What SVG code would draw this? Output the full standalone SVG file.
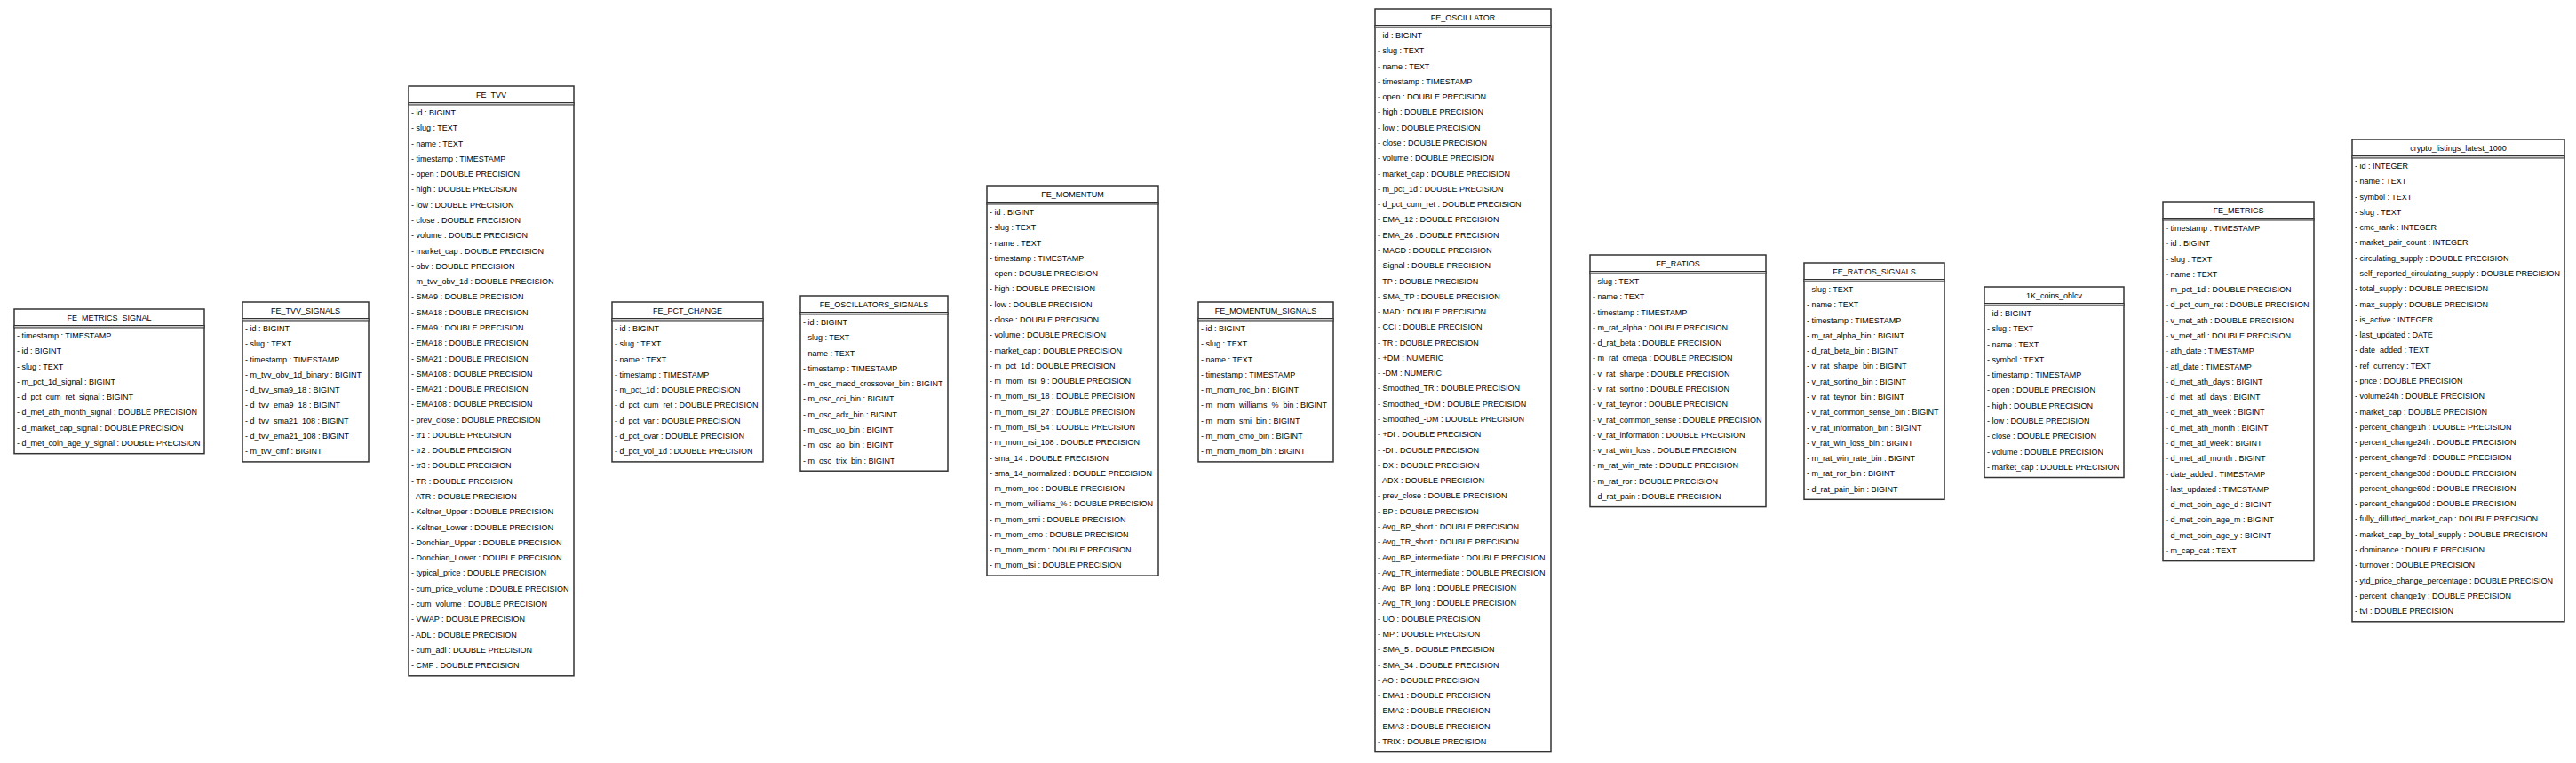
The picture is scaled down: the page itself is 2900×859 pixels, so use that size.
<svg xmlns="http://www.w3.org/2000/svg" width="2900" height="859" viewBox="0 0 2900 859">
<style>
.box{fill:#fff;stroke:#333;stroke-width:1.5}
.sep{fill:#ccc;stroke:#333;stroke-width:1}
text{font-family:"Liberation Sans",Arial,sans-serif;font-size:9px;fill:#000}
.t{text-anchor:middle}
</style>
<rect width="2900" height="859" fill="#fff"/>
<g id="connectors"></g>

<g id="FE_METRICS_SIGNAL" transform="translate(16,348)">
<rect class="box" x="0" y="0" width="214" height="162.7"/><rect class="sep" x="0" y="18.5" width="214" height="2.5"/>
<text class="t" x="107" y="12.5">FE_METRICS_SIGNAL</text>
<text x="3" y="33">- timestamp : TIMESTAMP</text>
<text x="3" y="50.3">- id : BIGINT</text>
<text x="3" y="67.6">- slug : TEXT</text>
<text x="3" y="84.8">- m_pct_1d_signal : BIGINT</text>
<text x="3" y="102.1">- d_pct_cum_ret_signal : BIGINT</text>
<text x="3" y="119.4">- d_met_ath_month_signal : DOUBLE PRECISION</text>
<text x="3" y="136.7">- d_market_cap_signal : DOUBLE PRECISION</text>
<text x="3" y="154">- d_met_coin_age_y_signal : DOUBLE PRECISION</text>
</g>

<g id="FE_TVV_SIGNALS" transform="translate(273,340)">
<rect class="box" x="0" y="0" width="142" height="179.9"/><rect class="sep" x="0" y="18.5" width="142" height="2.5"/>
<text class="t" x="71" y="12.5">FE_TVV_SIGNALS</text>
<text x="3" y="33">- id : BIGINT</text>
<text x="3" y="50.3">- slug : TEXT</text>
<text x="3" y="67.6">- timestamp : TIMESTAMP</text>
<text x="3" y="84.8">- m_tvv_obv_1d_binary : BIGINT</text>
<text x="3" y="102.1">- d_tvv_sma9_18 : BIGINT</text>
<text x="3" y="119.4">- d_tvv_ema9_18 : BIGINT</text>
<text x="3" y="136.7">- d_tvv_sma21_108 : BIGINT</text>
<text x="3" y="154">- d_tvv_ema21_108 : BIGINT</text>
<text x="3" y="171.2">- m_tvv_cmf : BIGINT</text>
</g>

<g id="FE_TVV" transform="translate(460,97)">
<rect class="box" x="0" y="0" width="186" height="663.8"/><rect class="sep" x="0" y="18.5" width="186" height="2.5"/>
<text class="t" x="93" y="12.5">FE_TVV</text>
<text x="3" y="33">- id : BIGINT</text>
<text x="3" y="50.3">- slug : TEXT</text>
<text x="3" y="67.6">- name : TEXT</text>
<text x="3" y="84.8">- timestamp : TIMESTAMP</text>
<text x="3" y="102.1">- open : DOUBLE PRECISION</text>
<text x="3" y="119.4">- high : DOUBLE PRECISION</text>
<text x="3" y="136.7">- low : DOUBLE PRECISION</text>
<text x="3" y="154">- close : DOUBLE PRECISION</text>
<text x="3" y="171.2">- volume : DOUBLE PRECISION</text>
<text x="3" y="188.5">- market_cap : DOUBLE PRECISION</text>
<text x="3" y="205.8">- obv : DOUBLE PRECISION</text>
<text x="3" y="223.1">- m_tvv_obv_1d : DOUBLE PRECISION</text>
<text x="3" y="240.4">- SMA9 : DOUBLE PRECISION</text>
<text x="3" y="257.6">- SMA18 : DOUBLE PRECISION</text>
<text x="3" y="274.9">- EMA9 : DOUBLE PRECISION</text>
<text x="3" y="292.2">- EMA18 : DOUBLE PRECISION</text>
<text x="3" y="309.5">- SMA21 : DOUBLE PRECISION</text>
<text x="3" y="326.8">- SMA108 : DOUBLE PRECISION</text>
<text x="3" y="344">- EMA21 : DOUBLE PRECISION</text>
<text x="3" y="361.3">- EMA108 : DOUBLE PRECISION</text>
<text x="3" y="378.6">- prev_close : DOUBLE PRECISION</text>
<text x="3" y="395.9">- tr1 : DOUBLE PRECISION</text>
<text x="3" y="413.2">- tr2 : DOUBLE PRECISION</text>
<text x="3" y="430.4">- tr3 : DOUBLE PRECISION</text>
<text x="3" y="447.7">- TR : DOUBLE PRECISION</text>
<text x="3" y="465">- ATR : DOUBLE PRECISION</text>
<text x="3" y="482.3">- Keltner_Upper : DOUBLE PRECISION</text>
<text x="3" y="499.6">- Keltner_Lower : DOUBLE PRECISION</text>
<text x="3" y="516.8">- Donchian_Upper : DOUBLE PRECISION</text>
<text x="3" y="534.1">- Donchian_Lower : DOUBLE PRECISION</text>
<text x="3" y="551.4">- typical_price : DOUBLE PRECISION</text>
<text x="3" y="568.7">- cum_price_volume : DOUBLE PRECISION</text>
<text x="3" y="586">- cum_volume : DOUBLE PRECISION</text>
<text x="3" y="603.2">- VWAP : DOUBLE PRECISION</text>
<text x="3" y="620.5">- ADL : DOUBLE PRECISION</text>
<text x="3" y="637.8">- cum_adl : DOUBLE PRECISION</text>
<text x="3" y="655.1">- CMF : DOUBLE PRECISION</text>
</g>

<g id="FE_PCT_CHANGE" transform="translate(689,340)">
<rect class="box" x="0" y="0" width="170" height="179.9"/><rect class="sep" x="0" y="18.5" width="170" height="2.5"/>
<text class="t" x="85" y="12.5">FE_PCT_CHANGE</text>
<text x="3" y="33">- id : BIGINT</text>
<text x="3" y="50.3">- slug : TEXT</text>
<text x="3" y="67.6">- name : TEXT</text>
<text x="3" y="84.8">- timestamp : TIMESTAMP</text>
<text x="3" y="102.1">- m_pct_1d : DOUBLE PRECISION</text>
<text x="3" y="119.4">- d_pct_cum_ret : DOUBLE PRECISION</text>
<text x="3" y="136.7">- d_pct_var : DOUBLE PRECISION</text>
<text x="3" y="154">- d_pct_cvar : DOUBLE PRECISION</text>
<text x="3" y="171.2">- d_pct_vol_1d : DOUBLE PRECISION</text>
</g>

<g id="FE_OSCILLATORS_SIGNALS" transform="translate(901,333)">
<rect class="box" x="0" y="0" width="166" height="197.2"/><rect class="sep" x="0" y="18.5" width="166" height="2.5"/>
<text class="t" x="83" y="12.5">FE_OSCILLATORS_SIGNALS</text>
<text x="3" y="33">- id : BIGINT</text>
<text x="3" y="50.3">- slug : TEXT</text>
<text x="3" y="67.6">- name : TEXT</text>
<text x="3" y="84.8">- timestamp : TIMESTAMP</text>
<text x="3" y="102.1">- m_osc_macd_crossover_bin : BIGINT</text>
<text x="3" y="119.4">- m_osc_cci_bin : BIGINT</text>
<text x="3" y="136.7">- m_osc_adx_bin : BIGINT</text>
<text x="3" y="154">- m_osc_uo_bin : BIGINT</text>
<text x="3" y="171.2">- m_osc_ao_bin : BIGINT</text>
<text x="3" y="188.5">- m_osc_trix_bin : BIGINT</text>
</g>

<g id="FE_MOMENTUM" transform="translate(1111,209)">
<rect class="box" x="0" y="0" width="193" height="439.1"/><rect class="sep" x="0" y="18.5" width="193" height="2.5"/>
<text class="t" x="96.5" y="12.5">FE_MOMENTUM</text>
<text x="3" y="33">- id : BIGINT</text>
<text x="3" y="50.3">- slug : TEXT</text>
<text x="3" y="67.6">- name : TEXT</text>
<text x="3" y="84.8">- timestamp : TIMESTAMP</text>
<text x="3" y="102.1">- open : DOUBLE PRECISION</text>
<text x="3" y="119.4">- high : DOUBLE PRECISION</text>
<text x="3" y="136.7">- low : DOUBLE PRECISION</text>
<text x="3" y="154">- close : DOUBLE PRECISION</text>
<text x="3" y="171.2">- volume : DOUBLE PRECISION</text>
<text x="3" y="188.5">- market_cap : DOUBLE PRECISION</text>
<text x="3" y="205.8">- m_pct_1d : DOUBLE PRECISION</text>
<text x="3" y="223.1">- m_mom_rsi_9 : DOUBLE PRECISION</text>
<text x="3" y="240.4">- m_mom_rsi_18 : DOUBLE PRECISION</text>
<text x="3" y="257.6">- m_mom_rsi_27 : DOUBLE PRECISION</text>
<text x="3" y="274.9">- m_mom_rsi_54 : DOUBLE PRECISION</text>
<text x="3" y="292.2">- m_mom_rsi_108 : DOUBLE PRECISION</text>
<text x="3" y="309.5">- sma_14 : DOUBLE PRECISION</text>
<text x="3" y="326.8">- sma_14_normalized : DOUBLE PRECISION</text>
<text x="3" y="344">- m_mom_roc : DOUBLE PRECISION</text>
<text x="3" y="361.3">- m_mom_williams_% : DOUBLE PRECISION</text>
<text x="3" y="378.6">- m_mom_smi : DOUBLE PRECISION</text>
<text x="3" y="395.9">- m_mom_cmo : DOUBLE PRECISION</text>
<text x="3" y="413.2">- m_mom_mom : DOUBLE PRECISION</text>
<text x="3" y="430.4">- m_mom_tsi : DOUBLE PRECISION</text>
</g>

<g id="FE_MOMENTUM_SIGNALS" transform="translate(1349,340)">
<rect class="box" x="0" y="0" width="152" height="179.9"/><rect class="sep" x="0" y="18.5" width="152" height="2.5"/>
<text class="t" x="76" y="12.5">FE_MOMENTUM_SIGNALS</text>
<text x="3" y="33">- id : BIGINT</text>
<text x="3" y="50.3">- slug : TEXT</text>
<text x="3" y="67.6">- name : TEXT</text>
<text x="3" y="84.8">- timestamp : TIMESTAMP</text>
<text x="3" y="102.1">- m_mom_roc_bin : BIGINT</text>
<text x="3" y="119.4">- m_mom_williams_%_bin : BIGINT</text>
<text x="3" y="136.7">- m_mom_smi_bin : BIGINT</text>
<text x="3" y="154">- m_mom_cmo_bin : BIGINT</text>
<text x="3" y="171.2">- m_mom_mom_bin : BIGINT</text>
</g>

<g id="FE_OSCILLATOR" transform="translate(1548,10)">
<rect class="box" x="0" y="0" width="198" height="836.6"/><rect class="sep" x="0" y="18.5" width="198" height="2.5"/>
<text class="t" x="99" y="12.5">FE_OSCILLATOR</text>
<text x="3" y="33">- id : BIGINT</text>
<text x="3" y="50.3">- slug : TEXT</text>
<text x="3" y="67.6">- name : TEXT</text>
<text x="3" y="84.8">- timestamp : TIMESTAMP</text>
<text x="3" y="102.1">- open : DOUBLE PRECISION</text>
<text x="3" y="119.4">- high : DOUBLE PRECISION</text>
<text x="3" y="136.7">- low : DOUBLE PRECISION</text>
<text x="3" y="154">- close : DOUBLE PRECISION</text>
<text x="3" y="171.2">- volume : DOUBLE PRECISION</text>
<text x="3" y="188.5">- market_cap : DOUBLE PRECISION</text>
<text x="3" y="205.8">- m_pct_1d : DOUBLE PRECISION</text>
<text x="3" y="223.1">- d_pct_cum_ret : DOUBLE PRECISION</text>
<text x="3" y="240.4">- EMA_12 : DOUBLE PRECISION</text>
<text x="3" y="257.6">- EMA_26 : DOUBLE PRECISION</text>
<text x="3" y="274.9">- MACD : DOUBLE PRECISION</text>
<text x="3" y="292.2">- Signal : DOUBLE PRECISION</text>
<text x="3" y="309.5">- TP : DOUBLE PRECISION</text>
<text x="3" y="326.8">- SMA_TP : DOUBLE PRECISION</text>
<text x="3" y="344">- MAD : DOUBLE PRECISION</text>
<text x="3" y="361.3">- CCI : DOUBLE PRECISION</text>
<text x="3" y="378.6">- TR : DOUBLE PRECISION</text>
<text x="3" y="395.9">- +DM : NUMERIC</text>
<text x="3" y="413.2">- -DM : NUMERIC</text>
<text x="3" y="430.4">- Smoothed_TR : DOUBLE PRECISION</text>
<text x="3" y="447.7">- Smoothed_+DM : DOUBLE PRECISION</text>
<text x="3" y="465">- Smoothed_-DM : DOUBLE PRECISION</text>
<text x="3" y="482.3">- +DI : DOUBLE PRECISION</text>
<text x="3" y="499.6">- -DI : DOUBLE PRECISION</text>
<text x="3" y="516.8">- DX : DOUBLE PRECISION</text>
<text x="3" y="534.1">- ADX : DOUBLE PRECISION</text>
<text x="3" y="551.4">- prev_close : DOUBLE PRECISION</text>
<text x="3" y="568.7">- BP : DOUBLE PRECISION</text>
<text x="3" y="586">- Avg_BP_short : DOUBLE PRECISION</text>
<text x="3" y="603.2">- Avg_TR_short : DOUBLE PRECISION</text>
<text x="3" y="620.5">- Avg_BP_intermediate : DOUBLE PRECISION</text>
<text x="3" y="637.8">- Avg_TR_intermediate : DOUBLE PRECISION</text>
<text x="3" y="655.1">- Avg_BP_long : DOUBLE PRECISION</text>
<text x="3" y="672.4">- Avg_TR_long : DOUBLE PRECISION</text>
<text x="3" y="689.6">- UO : DOUBLE PRECISION</text>
<text x="3" y="706.9">- MP : DOUBLE PRECISION</text>
<text x="3" y="724.2">- SMA_5 : DOUBLE PRECISION</text>
<text x="3" y="741.5">- SMA_34 : DOUBLE PRECISION</text>
<text x="3" y="758.8">- AO : DOUBLE PRECISION</text>
<text x="3" y="776">- EMA1 : DOUBLE PRECISION</text>
<text x="3" y="793.3">- EMA2 : DOUBLE PRECISION</text>
<text x="3" y="810.6">- EMA3 : DOUBLE PRECISION</text>
<text x="3" y="827.9">- TRIX : DOUBLE PRECISION</text>
</g>

<g id="FE_RATIOS" transform="translate(1790,287)">
<rect class="box" x="0" y="0" width="198" height="283.6"/><rect class="sep" x="0" y="18.5" width="198" height="2.5"/>
<text class="t" x="99" y="12.5">FE_RATIOS</text>
<text x="3" y="33">- slug : TEXT</text>
<text x="3" y="50.3">- name : TEXT</text>
<text x="3" y="67.6">- timestamp : TIMESTAMP</text>
<text x="3" y="84.8">- m_rat_alpha : DOUBLE PRECISION</text>
<text x="3" y="102.1">- d_rat_beta : DOUBLE PRECISION</text>
<text x="3" y="119.4">- m_rat_omega : DOUBLE PRECISION</text>
<text x="3" y="136.7">- v_rat_sharpe : DOUBLE PRECISION</text>
<text x="3" y="154">- v_rat_sortino : DOUBLE PRECISION</text>
<text x="3" y="171.2">- v_rat_teynor : DOUBLE PRECISION</text>
<text x="3" y="188.5">- v_rat_common_sense : DOUBLE PRECISION</text>
<text x="3" y="205.8">- v_rat_information : DOUBLE PRECISION</text>
<text x="3" y="223.1">- v_rat_win_loss : DOUBLE PRECISION</text>
<text x="3" y="240.4">- m_rat_win_rate : DOUBLE PRECISION</text>
<text x="3" y="257.6">- m_rat_ror : DOUBLE PRECISION</text>
<text x="3" y="274.9">- d_rat_pain : DOUBLE PRECISION</text>
</g>

<g id="FE_RATIOS_SIGNALS" transform="translate(2031,296)">
<rect class="box" x="0" y="0" width="158" height="266.3"/><rect class="sep" x="0" y="18.5" width="158" height="2.5"/>
<text class="t" x="79" y="12.5">FE_RATIOS_SIGNALS</text>
<text x="3" y="33">- slug : TEXT</text>
<text x="3" y="50.3">- name : TEXT</text>
<text x="3" y="67.6">- timestamp : TIMESTAMP</text>
<text x="3" y="84.8">- m_rat_alpha_bin : BIGINT</text>
<text x="3" y="102.1">- d_rat_beta_bin : BIGINT</text>
<text x="3" y="119.4">- v_rat_sharpe_bin : BIGINT</text>
<text x="3" y="136.7">- v_rat_sortino_bin : BIGINT</text>
<text x="3" y="154">- v_rat_teynor_bin : BIGINT</text>
<text x="3" y="171.2">- v_rat_common_sense_bin : BIGINT</text>
<text x="3" y="188.5">- v_rat_information_bin : BIGINT</text>
<text x="3" y="205.8">- v_rat_win_loss_bin : BIGINT</text>
<text x="3" y="223.1">- m_rat_win_rate_bin : BIGINT</text>
<text x="3" y="240.4">- m_rat_ror_bin : BIGINT</text>
<text x="3" y="257.6">- d_rat_pain_bin : BIGINT</text>
</g>

<g id="coins_ohlcv" transform="translate(2234,323)">
<rect class="box" x="0" y="0" width="157" height="214.5"/><rect class="sep" x="0" y="18.5" width="157" height="2.5"/>
<text class="t" x="78.5" y="12.5">1K_coins_ohlcv</text>
<text x="3" y="33">- id : BIGINT</text>
<text x="3" y="50.3">- slug : TEXT</text>
<text x="3" y="67.6">- name : TEXT</text>
<text x="3" y="84.8">- symbol : TEXT</text>
<text x="3" y="102.1">- timestamp : TIMESTAMP</text>
<text x="3" y="119.4">- open : DOUBLE PRECISION</text>
<text x="3" y="136.7">- high : DOUBLE PRECISION</text>
<text x="3" y="154">- low : DOUBLE PRECISION</text>
<text x="3" y="171.2">- close : DOUBLE PRECISION</text>
<text x="3" y="188.5">- volume : DOUBLE PRECISION</text>
<text x="3" y="205.8">- market_cap : DOUBLE PRECISION</text>
</g>

<g id="FE_METRICS" transform="translate(2435,227)">
<rect class="box" x="0" y="0" width="170" height="404.6"/><rect class="sep" x="0" y="18.5" width="170" height="2.5"/>
<text class="t" x="85" y="12.5">FE_METRICS</text>
<text x="3" y="33">- timestamp : TIMESTAMP</text>
<text x="3" y="50.3">- id : BIGINT</text>
<text x="3" y="67.6">- slug : TEXT</text>
<text x="3" y="84.8">- name : TEXT</text>
<text x="3" y="102.1">- m_pct_1d : DOUBLE PRECISION</text>
<text x="3" y="119.4">- d_pct_cum_ret : DOUBLE PRECISION</text>
<text x="3" y="136.7">- v_met_ath : DOUBLE PRECISION</text>
<text x="3" y="154">- v_met_atl : DOUBLE PRECISION</text>
<text x="3" y="171.2">- ath_date : TIMESTAMP</text>
<text x="3" y="188.5">- atl_date : TIMESTAMP</text>
<text x="3" y="205.8">- d_met_ath_days : BIGINT</text>
<text x="3" y="223.1">- d_met_atl_days : BIGINT</text>
<text x="3" y="240.4">- d_met_ath_week : BIGINT</text>
<text x="3" y="257.6">- d_met_ath_month : BIGINT</text>
<text x="3" y="274.9">- d_met_atl_week : BIGINT</text>
<text x="3" y="292.2">- d_met_atl_month : BIGINT</text>
<text x="3" y="309.5">- date_added : TIMESTAMP</text>
<text x="3" y="326.8">- last_updated : TIMESTAMP</text>
<text x="3" y="344">- d_met_coin_age_d : BIGINT</text>
<text x="3" y="361.3">- d_met_coin_age_m : BIGINT</text>
<text x="3" y="378.6">- d_met_coin_age_y : BIGINT</text>
<text x="3" y="395.9">- m_cap_cat : TEXT</text>
</g>

<g id="crypto_listings_latest_1000" transform="translate(2648,157)">
<rect class="box" x="0" y="0" width="239" height="542.8"/><rect class="sep" x="0" y="18.5" width="239" height="2.5"/>
<text class="t" x="119.5" y="12.5">crypto_listings_latest_1000</text>
<text x="3" y="33">- id : INTEGER</text>
<text x="3" y="50.3">- name : TEXT</text>
<text x="3" y="67.6">- symbol : TEXT</text>
<text x="3" y="84.8">- slug : TEXT</text>
<text x="3" y="102.1">- cmc_rank : INTEGER</text>
<text x="3" y="119.4">- market_pair_count : INTEGER</text>
<text x="3" y="136.7">- circulating_supply : DOUBLE PRECISION</text>
<text x="3" y="154">- self_reported_circulating_supply : DOUBLE PRECISION</text>
<text x="3" y="171.2">- total_supply : DOUBLE PRECISION</text>
<text x="3" y="188.5">- max_supply : DOUBLE PRECISION</text>
<text x="3" y="205.8">- is_active : INTEGER</text>
<text x="3" y="223.1">- last_updated : DATE</text>
<text x="3" y="240.4">- date_added : TEXT</text>
<text x="3" y="257.6">- ref_currency : TEXT</text>
<text x="3" y="274.9">- price : DOUBLE PRECISION</text>
<text x="3" y="292.2">- volume24h : DOUBLE PRECISION</text>
<text x="3" y="309.5">- market_cap : DOUBLE PRECISION</text>
<text x="3" y="326.8">- percent_change1h : DOUBLE PRECISION</text>
<text x="3" y="344">- percent_change24h : DOUBLE PRECISION</text>
<text x="3" y="361.3">- percent_change7d : DOUBLE PRECISION</text>
<text x="3" y="378.6">- percent_change30d : DOUBLE PRECISION</text>
<text x="3" y="395.9">- percent_change60d : DOUBLE PRECISION</text>
<text x="3" y="413.2">- percent_change90d : DOUBLE PRECISION</text>
<text x="3" y="430.4">- fully_dillutted_market_cap : DOUBLE PRECISION</text>
<text x="3" y="447.7">- market_cap_by_total_supply : DOUBLE PRECISION</text>
<text x="3" y="465">- dominance : DOUBLE PRECISION</text>
<text x="3" y="482.3">- turnover : DOUBLE PRECISION</text>
<text x="3" y="499.6">- ytd_price_change_percentage : DOUBLE PRECISION</text>
<text x="3" y="516.8">- percent_change1y : DOUBLE PRECISION</text>
<text x="3" y="534.1">- tvl : DOUBLE PRECISION</text>
</g>
</svg>
